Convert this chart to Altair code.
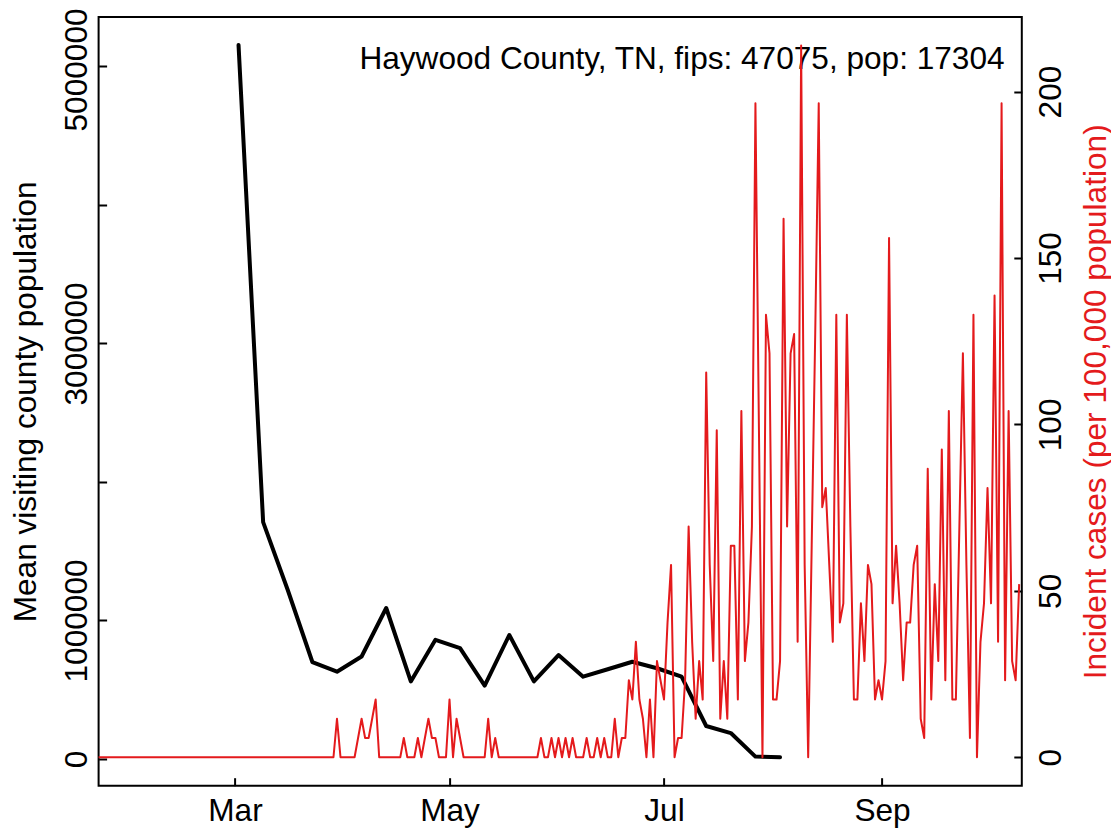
import altair as alt
import pandas as pd

# ---------------- data ----------------
visit_dates = [
    "2020-03-02", "2020-03-09", "2020-03-16", "2020-03-23", "2020-03-30",
    "2020-04-06", "2020-04-13", "2020-04-20", "2020-04-27", "2020-05-04",
    "2020-05-11", "2020-05-18", "2020-05-25", "2020-06-01", "2020-06-08",
    "2020-06-15", "2020-06-22", "2020-06-29", "2020-07-06", "2020-07-13",
    "2020-07-20", "2020-07-27", "2020-08-03",
]
visit_means = [
    5155000, 1710000, 1220000, 700000, 630000,
    740000, 1090000, 560000, 860000, 800000,
    530000, 895000, 560000, 750000, 594000,
    648000, 702000, 655000, 594000, 238000,
    187000, 17000, 12000,
]

case_start = "2020-01-22"
county_pop = 17304
daily_cases = (
    [0] * 67
    + [0, 2, 0, 0, 0, 0, 0, 1, 2, 1, 1, 2, 3]
    + [0] * 7
    + [1, 0, 0, 0, 1, 0, 1, 2, 1, 1, 0, 0, 0, 3, 0, 2, 1, 0]
    + [0] * 6
    + [2, 0, 1, 0]
    + [0] * 11
    + [1, 0, 0, 1, 0, 1, 0, 1, 0, 1, 0, 0, 0, 1, 0, 0, 1, 0, 1, 0, 0]
    + [2, 0, 1, 1, 4, 3, 6, 3, 2, 0,
       3, 0, 5, 4, 3, 7, 10, 0, 1, 1,
       4, 12, 6, 2, 5, 3, 20, 10, 5, 17,
       2, 5, 2, 11, 11, 3, 18, 5, 7, 12,
       34, 17, 0, 23, 21, 3, 3, 5, 28, 12,
       21, 22, 6, 37, 10, 0, 11, 22, 34, 13,
       14, 10, 6, 23, 7, 8, 23, 12, 3, 3,
       8, 5, 10, 9, 3, 4, 3, 5, 27, 8,
       11, 8, 4, 7, 7, 10, 11, 2, 1, 15,
       3, 9, 5, 16, 4, 18, 3, 3, 12, 21,
       10, 1, 23, 0, 6, 8, 14, 8, 24, 6,
       34, 4, 18, 5, 4, 9]
)

left_ticks = [0, 1000000, 2000000, 3000000, 4000000, 5000000]
right_ticks = [0, 50, 100, 150, 200]
month_ticks = [(2020, 3, 1), (2020, 5, 1), (2020, 7, 1), (2020, 9, 1)]
annotation = "Haywood County, TN, fips: 47075, pop: 17304"
left_title = "Mean visiting county population"
right_title = "Incident cases (per 100,000 population)"

# ---------------- tables ----------------
visit_df = pd.DataFrame({"date": visit_dates, "mean_pop": visit_means})
case_dates = pd.date_range(case_start, periods=len(daily_cases), freq="D").strftime("%Y-%m-%d").tolist()
case_df = pd.DataFrame({
    "date": case_dates,
    "rate": [c * 100000 / county_pop for c in daily_cases],
})

RED = "#E41A1C"
FONT = "Liberation Sans"
FS = 31.6
W, H = 923.2, 768.7
PAD_L, PAD_T = 90.6, 9
PAD_R = 1103 - PAD_L - W
PAD_B = 822 - PAD_T - H
PLOT_X0 = PAD_L + 8          # absolute x of plot left edge
PLOT_X1 = PLOT_X0 + W        # absolute x of plot right edge


def make_x_axis():
    return alt.Axis(
        values=[alt.DateTime(year=y, month=m, date=d, utc=True) for (y, m, d) in month_ticks],
        labelExpr="utcFormat(datum.value, '%b')",
        orient="bottom", offset=-8, domain=False, grid=False,
        tickSize=8, tickWidth=2, tickColor="black",
        labelFontSize=FS, labelColor="black", labelPadding=10,
        labelBaseline="top", labelAlign="center", labelFlush=False, labelOverlap=False,
        title=None,
    )


x_scale = alt.Scale(
    type="utc",
    domain=[
        alt.DateTime(year=2020, month=1, date=22, hours=5, utc=True),
        alt.DateTime(year=2020, month=10, date=10, hours=18, utc=True),
    ],
)

black = alt.Chart(visit_df).mark_line(
    color="black", strokeWidth=4, strokeJoin="round", strokeCap="round", clip=True
).encode(
    x=alt.X("date:T", scale=x_scale, axis=make_x_axis()),
    y=alt.Y(
        "mean_pop:Q",
        scale=alt.Scale(domain=[-193000, 5357000], nice=False, zero=False),
        axis=alt.Axis(
            values=left_ticks, orient="left", offset=-8, domain=False, grid=False,
            tickSize=8, tickWidth=2, tickColor="black",
            labelAngle=-90, labelAlign="center", labelBaseline="alphabetic",
            labelPadding=12, labelFontSize=FS, labelColor="black",
            labelFlush=False, labelOverlap=False, format="d",
            labelOffset={"condition": {"test": "datum.value == 5000000", "value": 3}, "value": 0},
            labelExpr="datum.value == 2000000 || datum.value == 4000000 ? '' : datum.label",
            title=left_title, titleAngle=-90, titleAlign="center",
            titleBaseline="alphabetic", titleFontSize=FS, titleFontWeight="normal",
            titleColor="black", titleX=35.5 - PLOT_X0 - 8, titleY=H / 2,
        ),
    ),
)

label = alt.Chart(pd.DataFrame({"label": [annotation]})).mark_text(
    align="right", baseline="alphabetic", fontSize=FS, font=FONT, color="black"
).encode(
    x=alt.value(1004.6 - PLOT_X0),
    y=alt.value(69 - 17),
    text="label:N",
)

red = alt.Chart(case_df).mark_line(
    color=RED, strokeWidth=2, strokeJoin="round", clip=True
).encode(
    x=alt.X("date:T", scale=x_scale, axis=make_x_axis()),
    y=alt.Y(
        "rate:Q",
        scale=alt.Scale(domain=[-8.55, 222.4], nice=False, zero=False),
        axis=alt.Axis(
            values=right_ticks, orient="right", offset=-8, domain=False, grid=False,
            tickSize=8, tickWidth=2, tickColor="black",
            labelAngle=-90, labelAlign="center", labelBaseline="top",
            labelPadding=14, labelFontSize=FS, labelColor="black",
            labelFlush=False, labelOverlap=False, format="d",
            title=right_title, titleAngle=-90, titleAlign="center",
            titleBaseline="alphabetic", titleFontSize=FS, titleFontWeight="normal",
            titleColor=RED, titleX=1105 - (PLOT_X1 - 8), titleY=H / 2,
        ),
    ),
)

chart = (
    alt.layer(black, label, red)
    .resolve_scale(y="independent")
    .properties(
        width=W, height=H,
        autosize=alt.AutoSizeParams(type="none"),
        padding={"left": PAD_L, "top": PAD_T, "right": PAD_R, "bottom": PAD_B},
    )
    .configure(font=FONT)
    .configure_view(stroke="black", strokeWidth=2)
)

chart.save("out.html", embed_options={"renderer": "svg", "actions": False})
